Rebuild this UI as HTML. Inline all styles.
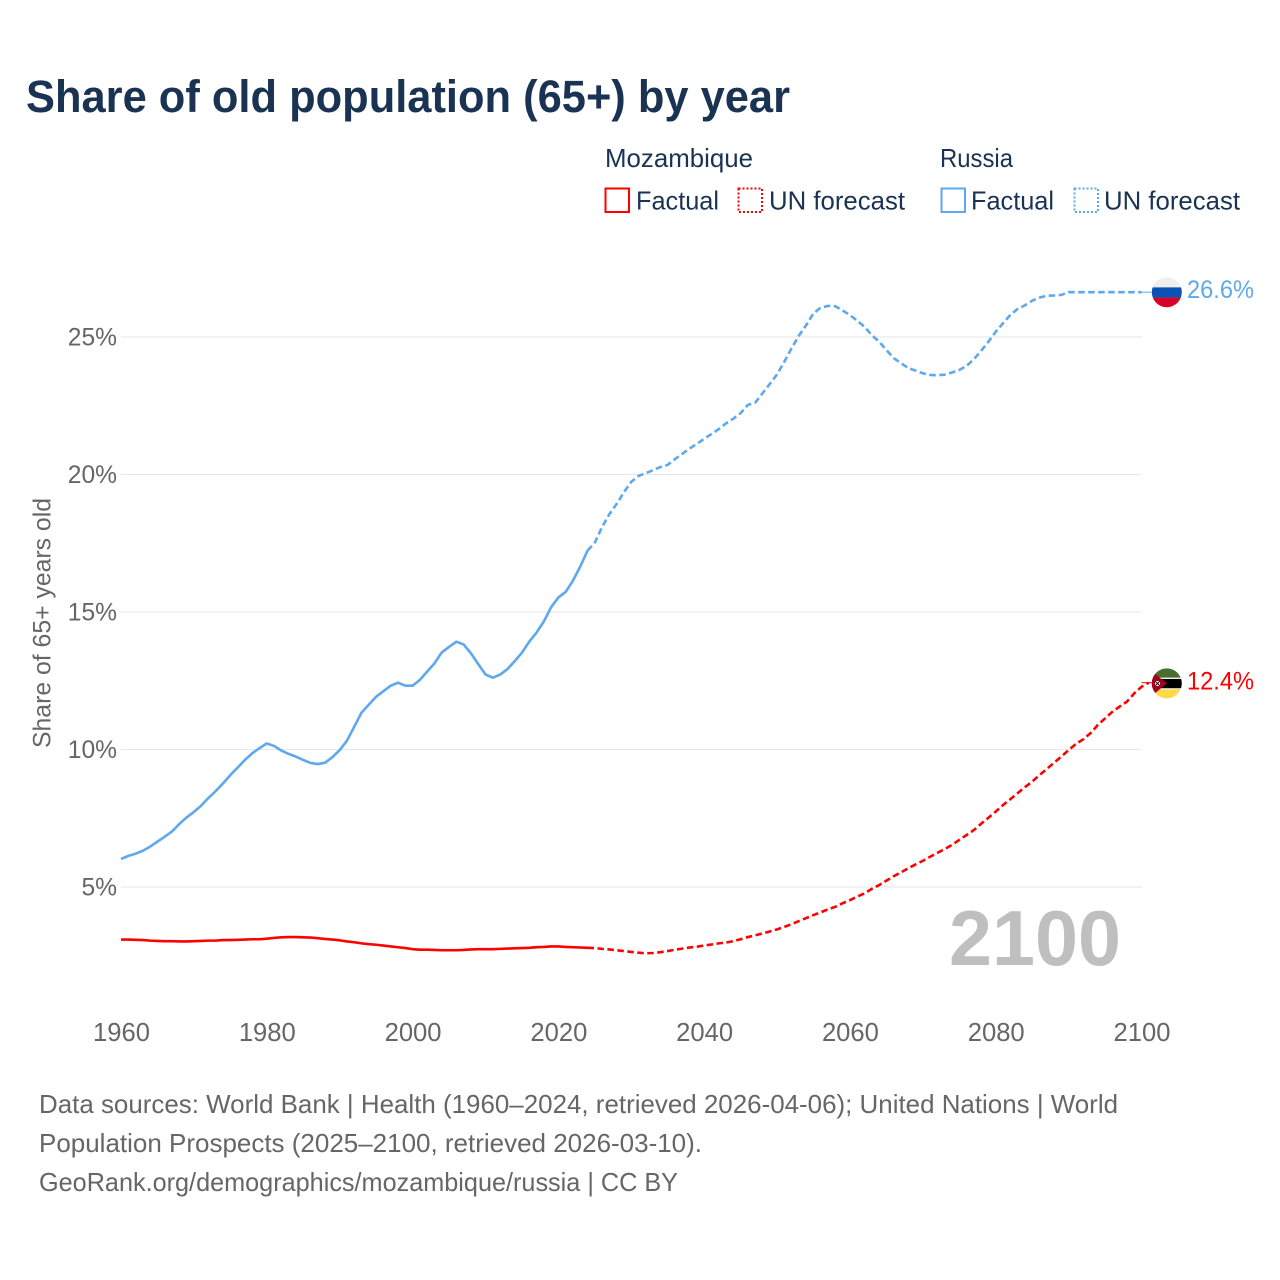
<!DOCTYPE html>
<html lang="en">
<head>
<meta charset="utf-8">
<title>Share of old population (65+) by year</title>
<style>
html,body{margin:0;padding:0;background:#fff;width:1280px;height:1280px;overflow:hidden}
svg{display:block}
text{font-family:"Liberation Sans",sans-serif}
</style>
</head>
<body>
<svg id="chart" xmlns="http://www.w3.org/2000/svg" width="1280" height="1280" viewBox="0 0 1280 1280">
  <defs>
    <clipPath id="clip-ru"><circle cx="1166.8" cy="292.3" r="15"/></clipPath>
    <clipPath id="clip-mz"><circle cx="1166.8" cy="683.4" r="15"/></clipPath>
  </defs>
  <rect width="1280" height="1280" fill="#fff"/>
  <text x="26" y="112" font-size="45" font-weight="700" fill="#1a3353" textLength="764" lengthAdjust="spacingAndGlyphs">Share of old population (65+) by year</text>

  <g font-size="26" fill="#1a3353">
    <text x="605" y="167" textLength="148" lengthAdjust="spacingAndGlyphs">Mozambique</text>
    <rect x="605.5" y="188.5" width="23.5" height="23.5" fill="none" stroke="#ff0000" stroke-width="2"/>
    <text x="636" y="209.5" textLength="83" lengthAdjust="spacingAndGlyphs">Factual</text>
    <rect x="738.5" y="188.5" width="23.5" height="23.5" fill="none" stroke="#ff0000" stroke-width="2" stroke-dasharray="2 2"/>
    <text x="769" y="209.5" textLength="136" lengthAdjust="spacingAndGlyphs">UN forecast</text>
    <text x="940" y="167" textLength="73" lengthAdjust="spacingAndGlyphs">Russia</text>
    <rect x="941.5" y="188.5" width="23.5" height="23.5" fill="none" stroke="#5ea8ee" stroke-width="2"/>
    <text x="971" y="209.5" textLength="83" lengthAdjust="spacingAndGlyphs">Factual</text>
    <rect x="1074.5" y="188.5" width="23.5" height="23.5" fill="none" stroke="#5ea8ee" stroke-width="2" stroke-dasharray="2 2"/>
    <text x="1104" y="209.5" textLength="136" lengthAdjust="spacingAndGlyphs">UN forecast</text>
  </g>

  <g id="grid"></g>
  <g id="yticks"></g>
  <g id="xticks"></g>
  <text transform="translate(50.5,748) rotate(-90)" font-size="25" fill="#666" textLength="250" lengthAdjust="spacingAndGlyphs">Share of 65+ years old</text>
  <text x="949" y="965" font-size="78" font-weight="700" fill="#bfbfbf" textLength="172" lengthAdjust="spacingAndGlyphs">2100</text>
  <g id="series"></g>

  <g clip-path="url(#clip-ru)">
    <rect x="1151" y="277" width="32" height="10.6" fill="#efefef"/>
    <rect x="1151" y="287.4" width="32" height="10.4" fill="#0a52b5"/>
    <rect x="1151" y="297.6" width="32" height="11" fill="#d80027"/>
  </g>
  <g clip-path="url(#clip-mz)">
    <rect x="1151" y="668" width="32" height="10" fill="#496e2d"/>
    <rect x="1151" y="677.6" width="32" height="12" fill="#f0f0f0"/>
    <rect x="1151" y="679" width="32" height="9.2" fill="#000"/>
    <rect x="1151" y="689.4" width="32" height="10" fill="#ffda44"/>
    <polygon points="1151,670.5 1166.8,683.4 1151,696.5" fill="#a2001d"/>
    <rect x="1155" y="681" width="5" height="5" fill="#f0f0f0"/>
    <path d="M1155.2 681.2l4.6 4.6M1159.8 681.2l-4.6 4.6" stroke="#000" stroke-width="1"/>
  </g>
  <text id="label-ru" x="1187" y="298" font-size="25" fill="#5ea8ee" textLength="67" lengthAdjust="spacingAndGlyphs"></text>
  <text id="label-mz" x="1187" y="689.5" font-size="25" fill="#ff0000" textLength="67" lengthAdjust="spacingAndGlyphs"></text>

  <g font-size="26" fill="#666">
    <text x="39" y="1113" textLength="1079" lengthAdjust="spacingAndGlyphs">Data sources: World Bank | Health (1960–2024, retrieved 2026-04-06); United Nations | World</text>
    <text x="39" y="1152" textLength="663" lengthAdjust="spacingAndGlyphs">Population Prospects (2025–2100, retrieved 2026-03-10).</text>
    <text x="39" y="1191" textLength="639" lengthAdjust="spacingAndGlyphs">GeoRank.org/demographics/mozambique/russia | CC BY</text>
  </g>
</svg>
<script>
var xTickYears = [1960, 1980, 2000, 2020, 2040, 2060, 2080, 2100];
var yTickValues = [5, 10, 15, 20, 25];
var factualStartYear = 1960;
var forecastStartYear = 2024;
var russiaFactual = [6.02,6.13,6.21,6.32,6.47,6.65,6.83,7.02,7.29,7.53,7.73,7.96,8.24,8.49,8.77,9.07,9.34,9.62,9.86,10.05,10.22,10.13,9.96,9.84,9.74,9.62,9.51,9.47,9.52,9.72,9.98,10.32,10.83,11.34,11.63,11.92,12.12,12.32,12.43,12.32,12.32,12.53,12.83,13.13,13.53,13.73,13.92,13.82,13.5,13.11,12.73,12.61,12.72,12.92,13.21,13.52,13.92,14.25,14.65,15.17,15.53,15.73,16.14,16.65,17.23];
var russiaForecast = [17.23,17.52,18.09,18.56,18.93,19.36,19.73,19.95,20.05,20.16,20.27,20.35,20.56,20.75,20.95,21.11,21.3,21.47,21.65,21.86,22.03,22.23,22.53,22.61,22.95,23.29,23.64,24.1,24.59,25.05,25.43,25.86,26.07,26.13,26.12,25.96,25.8,25.59,25.37,25.07,24.83,24.53,24.23,24.05,23.87,23.78,23.68,23.62,23.61,23.63,23.71,23.8,23.95,24.19,24.5,24.83,25.19,25.5,25.8,26.02,26.15,26.32,26.43,26.5,26.51,26.53,26.63,26.63,26.63,26.63,26.63,26.63,26.63,26.63,26.63,26.63,26.63];
var mozambiqueFactual = [3.09,3.09,3.08,3.07,3.05,3.04,3.03,3.03,3.02,3.02,3.03,3.04,3.05,3.05,3.07,3.07,3.08,3.09,3.1,3.1,3.12,3.15,3.17,3.18,3.18,3.17,3.16,3.14,3.11,3.09,3.06,3.02,2.99,2.95,2.92,2.9,2.87,2.84,2.81,2.78,2.74,2.72,2.72,2.71,2.7,2.7,2.7,2.71,2.73,2.74,2.74,2.74,2.75,2.76,2.77,2.78,2.79,2.81,2.82,2.84,2.84,2.82,2.81,2.8,2.79];
var mozambiqueForecast = [2.79,2.78,2.75,2.73,2.7,2.67,2.64,2.61,2.59,2.6,2.63,2.67,2.72,2.76,2.8,2.83,2.87,2.91,2.95,2.98,3.03,3.1,3.18,3.24,3.31,3.38,3.46,3.55,3.65,3.76,3.87,3.98,4.08,4.19,4.28,4.41,4.52,4.65,4.77,4.93,5.07,5.23,5.39,5.53,5.68,5.82,5.95,6.1,6.24,6.38,6.53,6.71,6.89,7.07,7.3,7.52,7.74,7.98,8.19,8.41,8.63,8.83,9.07,9.29,9.52,9.74,9.98,10.2,10.37,10.59,10.89,11.13,11.37,11.56,11.74,12.04,12.28,12.43];
var russiaLabel = '26.6%';
var mozambiqueLabel = '12.4%';

var NS = 'http://www.w3.org/2000/svg';
function xScale(year) { return 121 + (year - 1960) * (1020.5 / 140); }
function yScale(value) { return 1024.5 - value * 27.5; }
function pointsFor(values, startYear) {
  return values.map(function (v, i) {
    return xScale(startYear + i).toFixed(2) + ',' + yScale(v).toFixed(2);
  }).join(' ');
}

var gridGroup = document.getElementById('grid');
var yGroup = document.getElementById('yticks');
var xGroup = document.getElementById('xticks');
var seriesGroup = document.getElementById('series');

yTickValues.forEach(function (v) {
  var line = document.createElementNS(NS, 'line');
  
  
  line.setAttribute('x1', xScale(1960));
  line.setAttribute('x2', xScale(2100));
  line.setAttribute('y1', yScale(v));
  line.setAttribute('y2', yScale(v));
  line.setAttribute('stroke', '#e6e6e6');
  line.setAttribute('stroke-width', '1');
  gridGroup.appendChild(line);

  var label = document.createElementNS(NS, 'text');
  
  
  label.setAttribute('x', 117);
  label.setAttribute('y', yScale(v) + 8.5);
  label.setAttribute('text-anchor', 'end');
  label.setAttribute('font-size', '24.6');
  label.setAttribute('fill', '#666');
  label.textContent = v + '%';
  yGroup.appendChild(label);
});

xTickYears.forEach(function (year) {
  var label = document.createElementNS(NS, 'text');
  
  
  label.setAttribute('x', xScale(year) + 0.5);
  label.setAttribute('y', 1041);
  label.setAttribute('text-anchor', 'middle');
  label.setAttribute('font-size', '25.6');
  label.setAttribute('fill', '#666');
  label.textContent = year;
  xGroup.appendChild(label);
});

function drawLine(name, values, startYear, color, dashed) {
  var line = document.createElementNS(NS, 'polyline');
  
  
  line.setAttribute('points', pointsFor(values, startYear));
  line.setAttribute('fill', 'none');
  line.setAttribute('stroke', color);
  line.setAttribute('stroke-width', '2.6');
  line.setAttribute('stroke-linejoin', 'round');
  if (dashed) { line.setAttribute('stroke-dasharray', '6.5 3.5'); }
  seriesGroup.appendChild(line);
}
drawLine('line-russia-factual', russiaFactual, factualStartYear, '#5ea8ee', false);
drawLine('line-russia-forecast', russiaForecast, forecastStartYear, '#5ea8ee', true);
drawLine('line-mozambique-factual', mozambiqueFactual, factualStartYear, '#ff0000', false);
drawLine('line-mozambique-forecast', mozambiqueForecast, forecastStartYear, '#ff0000', true);

function drawConnector(name, value, color) {
  var line = document.createElementNS(NS, 'line');
  
  
  line.setAttribute('x1', xScale(2100));
  line.setAttribute('x2', xScale(2100) + 10);
  line.setAttribute('y1', yScale(value));
  line.setAttribute('y2', yScale(value));
  line.setAttribute('stroke', color);
  line.setAttribute('stroke-width', '1');
  seriesGroup.appendChild(line);
}
drawConnector('connector-russia', russiaForecast[russiaForecast.length - 1], '#5ea8ee');
drawConnector('connector-mozambique', mozambiqueForecast[mozambiqueForecast.length - 1], '#ff0000');

document.getElementById('label-ru').textContent = russiaLabel;
document.getElementById('label-mz').textContent = mozambiqueLabel;
</script>
</body>
</html>
